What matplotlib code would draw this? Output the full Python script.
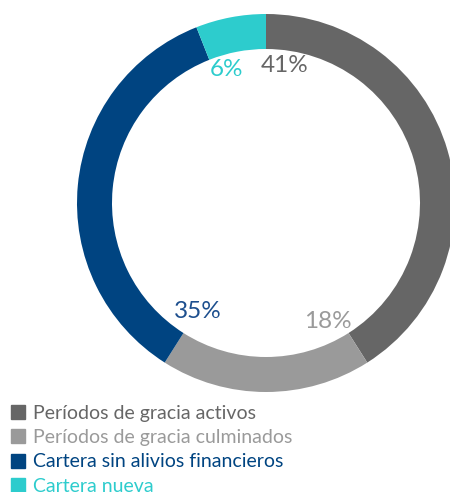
import matplotlib
matplotlib.use("Agg")
import matplotlib.pyplot as plt
from matplotlib.lines import Line2D
import numpy as np

categories = ["Períodos de gracia activos", "Períodos de gracia culminados",
              "Cartera sin alivios financieros", "Cartera nueva"]
values = [41, 18, 35, 6]
labels = ["41%", "18%", "35%", "6%"]
colors = ["#666666", "#9a9a9a", "#004481", "#2dcccd"]
text_colors = ["#666666", "#9a9a9a", "#1d4f8e", "#2dcccd"]

W, H = 450, 492
fig = plt.figure(figsize=(W / 100, H / 100), dpi=100)
ax = fig.add_axes([0, 0, 1, 1])

cx, cy, R, ring = 266, H - 203, 189, 35
ax.pie(values, colors=colors, startangle=90, counterclock=False,
       center=(cx, cy), radius=R, frame=True,
       wedgeprops=dict(width=ring, linewidth=0))
ax.set_xlim(0, W)
ax.set_ylim(0, H)
ax.set_aspect("equal")
ax.axis("off")

# label placement (angle offset from segment start, radius)
ang_off = [-7.8, -4.9, 0.4, -5.3]
rads = [139, 134, 128, 139]
start = 90.0
total = sum(values)
for v, lab, tc, off, r in zip(values, labels, text_colors, ang_off, rads):
    a = np.deg2rad(start + off)
    x = cx + r * np.cos(a)
    y = cy + r * np.sin(a)
    ax.text(x, y, lab, color=tc, fontsize=17.5, family="Lato",
            ha="center", va="center")
    start -= v / total * 360

handles = [Line2D([], [], marker="s", linestyle="none", markersize=9.5,
                  markerfacecolor=c, markeredgecolor=c) for c in colors]
leg = ax.legend(handles, categories, loc="upper left",
                bbox_to_anchor=(12 / W, 1 - 405 / H), frameon=False,
                labelcolor=colors, prop=dict(family="Lato", size=14),
                handlelength=0.65, handletextpad=0.45, labelspacing=0.37,
                borderpad=0, borderaxespad=0)

fig.savefig("out.png", dpi=100)
